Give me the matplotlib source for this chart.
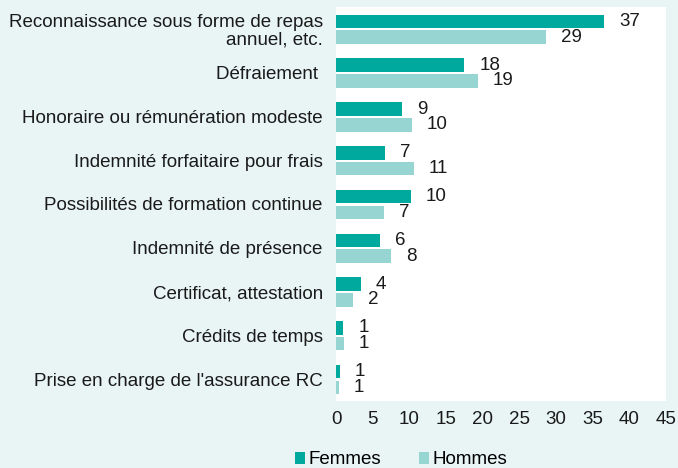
import matplotlib.pyplot as plt
import numpy as np

plt.rcParams['font.family'] = ['Liberation Sans', 'DejaVu Sans']

categories = ["Reconnaissance sous forme de repas\nannuel, etc.",
              "Défraiement ",
              "Honoraire ou rémunération modeste",
              "Indemnité forfaitaire pour frais",
              "Possibilités de formation continue",
              "Indemnité de présence",
              "Certificat, attestation",
              "Crédits de temps",
              "Prise en charge de l'assurance RC"]
femmes = [36.6, 17.5, 9.0, 6.7, 10.2, 6.0, 3.4, 1.0, 0.55]
hommes = [28.7, 19.3, 10.3, 10.6, 6.6, 7.5, 2.3, 1.1, 0.4]
femmes_lbl = [37, 18, 9, 7, 10, 6, 4, 1, 1]
hommes_lbl = [29, 19, 10, 11, 7, 8, 2, 1, 1]

c_f = '#00a99d'
c_h = '#96d5d2'
bg = '#e9f5f5'
fs = 13.5

fig = plt.figure(figsize=(6.78, 4.68), dpi=100, facecolor=bg)
ax = fig.add_axes([336/678, 1-401/468, 330/678, 394/468])
ax.set_facecolor('white')

y = np.arange(len(categories))
h = 0.31
bf = ax.barh(y - 0.17, femmes, height=h, color=c_f, label='Femmes')
bh = ax.barh(y + 0.19, hommes, height=h, color=c_h, label='Hommes')

for yy, v, t in zip(y - 0.17, femmes, femmes_lbl):
    ax.annotate(str(t), (v, yy), xytext=(15, 0), textcoords='offset pixels',
                ha='left', va='center', fontsize=fs, color='#1a1a1a')
for yy, v, t in zip(y + 0.19, hommes, hommes_lbl):
    ax.annotate(str(t), (v, yy), xytext=(15, 0), textcoords='offset pixels',
                ha='left', va='center', fontsize=fs, color='#1a1a1a')

ax.set_xlim(0, 45)
ax.set_ylim(len(categories) - 0.5, -0.5)
ax.set_xticks(range(0, 46, 5))
ax.set_yticks(y)
ax.set_yticklabels(categories, fontsize=fs, color='#1a1a1a', linespacing=1.05)
ax.tick_params(axis='x', labelsize=fs, colors='#1a1a1a', length=0, pad=7.5)
ax.tick_params(axis='y', length=0, pad=9.5)
for s in ax.spines.values():
    s.set_visible(False)

fig.legend(handles=[bf, bh], loc='center', bbox_to_anchor=(401/678, 1-460/468),
           ncol=2, frameon=False, fontsize=fs, handlelength=0.55, handleheight=0.55,
           handletextpad=0.15, columnspacing=2.05, borderpad=0)

fig.savefig('out.png', dpi=100, facecolor=bg)
